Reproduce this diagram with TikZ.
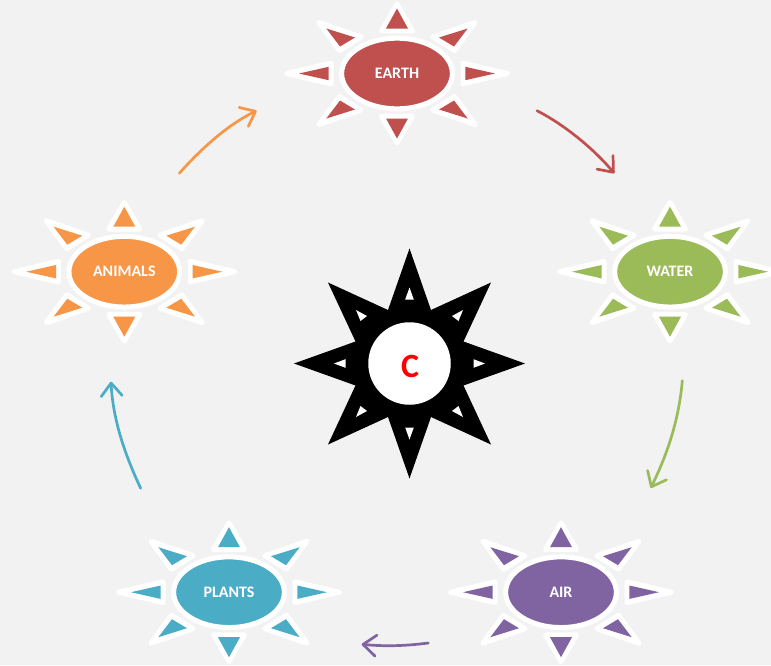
\documentclass[tikz,border=0pt]{standalone}
\usepackage{fontspec}
\setmainfont{Carlito}
\usetikzlibrary{shapes.geometric,arrows.meta}
\definecolor{pagebg}{HTML}{F2F2F2}
\definecolor{cearth}{HTML}{C0504D}
\definecolor{cwater}{HTML}{9BBB59}
\definecolor{cair}{HTML}{8064A2}
\definecolor{cplants}{HTML}{4BACC6}
\definecolor{canimals}{HTML}{F79646}
\tikzset{
  ray/.style={draw=white,fill=white,line width=5pt,line join=round},
  hub/.style={ellipse,draw=white,line width=5pt,minimum width=110.7pt,minimum height=70.7pt,inner sep=0pt,
    text=white,font=\bfseries\fontsize{16}{18}\selectfont},
  flow/.style={line width=2.7pt,line cap=round,-{Straight Barb[length=13pt,width=21pt,line width=2.7pt,round]}},
}
% #1 colour, #2 white outline path, #3 coloured core path
\newcommand{\raymark}[3]{%
  \filldraw[ray] #2 -- cycle;
  \fill[#1] #3 -- cycle;}
% #1 name, #2 x, #3 y, #4 colour, #5 label
\newcommand{\sunmark}[5]{%
  \begin{scope}[shift={(#2,#3)}]
    \raymark{#4}{(78,-51) -- (36,-36.5) -- (57.5,-23)}{(70.7,-45) -- (42,-36) -- (57,-27)}
    \raymark{#4}{(-78,-51) -- (-36,-36.5) -- (-57.5,-23)}{(-70.7,-45) -- (-42,-36) -- (-57,-27)}
    \raymark{#4}{(78,51) -- (36,36.5) -- (57.5,23)}{(70.7,45) -- (42,36) -- (57,27)}
    \raymark{#4}{(-78,51) -- (-36,36.5) -- (-57.5,23)}{(-70.7,45) -- (-42,36) -- (-57,27)}
    \raymark{#4}{(0,-69.3) -- (15.5,-42.7) -- (-15.5,-42.7)}{(0,-65) -- (11,-45) -- (-11,-45)}
    \raymark{#4}{(0,69.3) -- (15.5,42.7) -- (-15.5,42.7)}{(0,65) -- (11,45) -- (-11,45)}
    \raymark{#4}{(110.5,0) -- (66,10.3) -- (66,-10.3)}{(98,0) -- (68.3,6.7) -- (68.3,-6.7)}
    \raymark{#4}{(-110.5,0) -- (-66,10.3) -- (-66,-10.3)}{(-98,0) -- (-68.3,6.7) -- (-68.3,-6.7)}
    \node[hub,fill=#4] (#1) at (0,0) {\raisebox{-0.8pt}{#5}};
  \end{scope}}
\begin{document}
\begin{tikzpicture}[x=1pt,y=-1pt]
\useasboundingbox (0,0) rectangle (771,665);
\fill[pagebg] (0,0) rectangle (771,665);
\sunmark{earth}{397}{73.5}{cearth}{EARTH}
\sunmark{water}{670}{271.7}{cwater}{WATER}
\sunmark{air}{561}{592.2}{cair}{AIR}
\sunmark{plants}{229}{592.2}{cplants}{PLANTS}
\sunmark{animals}{124.3}{271.7}{canimals}{ANIMALS}
% centre star
\begin{scope}[shift={(409.5,363.5)}]
  \fill[black] (0,-115) -- (21.5,-53.5) -- (81.5,-81) -- (54,-22) -- (115.5,0)
    -- (54,22) -- (81.5,81) -- (21.5,53.5) -- (0,115) -- (-21.5,53.5) -- (-81.5,81)
    -- (-54,22) -- (-115.5,0) -- (-54,-22) -- (-81.5,-81) -- (-21.5,-53.5) -- cycle;
  \fill[white] (0,-76) -- (4.3,-64) -- (-4.3,-64) -- cycle;
  \fill[white] (0,76) -- (4.3,64) -- (-4.3,64) -- cycle;
  \fill[white] (75.5,0) -- (64,4.3) -- (64,-4.3) -- cycle;
  \fill[white] (-75.5,0) -- (-64,4.3) -- (-64,-4.3) -- cycle;
  \fill[white] (53.5,-53.5) -- (42.5,-47.5) -- (49,-42.5) -- cycle;
  \fill[white] (-53.5,-53.5) -- (-42.5,-47.5) -- (-49,-42.5) -- cycle;
  \fill[white] (53.5,53.5) -- (42.5,47.5) -- (49,42.5) -- cycle;
  \fill[white] (-53.5,53.5) -- (-42.5,47.5) -- (-49,42.5) -- cycle;
  \node[circle,fill=white,minimum size=82.5pt,inner sep=0pt] (core) at (0,0) {};
  \node[inner sep=0pt,text=red,font=\bfseries\fontsize{34}{36}\selectfont] (letter) at (0.5,3) {C};
\end{scope}
% connector ends
\coordinate (e1) at (537,110.7); \coordinate (w0) at (614.3,173.3);
\coordinate (w1) at (682.3,380.7); \coordinate (a0) at (650.7,488);
\coordinate (a1) at (428.3,643); \coordinate (p0) at (361.7,644.3);
\coordinate (p1) at (140.7,488.3); \coordinate (n0) at (111,381.7);
\coordinate (n1) at (179.3,173.3); \coordinate (e0) at (256.7,110.7);
\draw[flow,cearth] (e1) .. controls (563,124) and (592,147) .. (w0);
\draw[flow,cwater] (w1) .. controls (679,420) and (667,455) .. (a0);
\draw[flow,cair] (a1) .. controls (405,646) and (385,646.5) .. (p0);
\draw[flow,cplants] (p1) .. controls (125,455) and (113,420) .. (n0);
\draw[flow,canimals] (n1) .. controls (200,150) and (227,125) .. (e0);
\end{tikzpicture}
\end{document}
